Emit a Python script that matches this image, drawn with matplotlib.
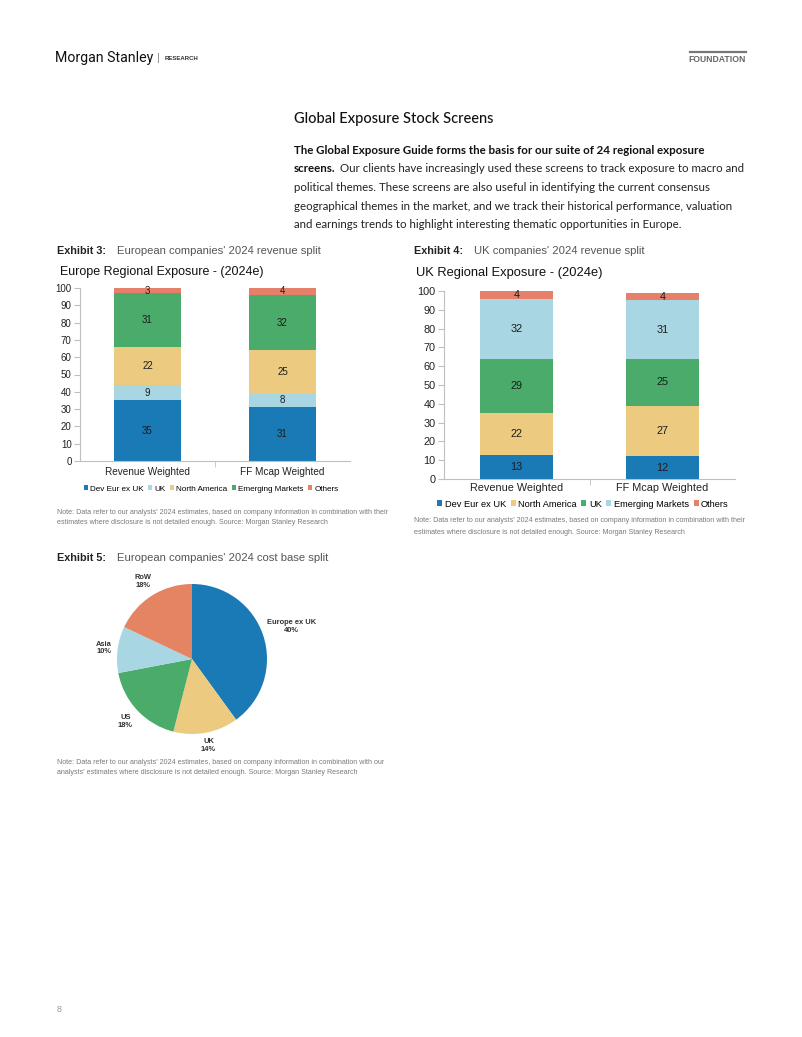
import matplotlib
matplotlib.use("Agg")
import matplotlib.pyplot as plt
import numpy as np

W, H = 802, 1037

# ---------------- data ----------------
eu_categories = ["Revenue Weighted", "FF Mcap Weighted"]
eu_series = ["Dev Eur ex UK", "UK", "North America", "Emerging Markets", "Others"]
eu_dev_eur = [35, 31]
eu_uk = [9, 8]
eu_north_america = [22, 25]
eu_em = [31, 32]
eu_others = [3, 4]

uk_categories = ["Revenue Weighted", "FF Mcap Weighted"]
uk_series = ["Dev Eur ex UK", "North America", "UK", "Emerging Markets", "Others"]
uk_dev_eur = [13, 12]
uk_north_america = [22, 27]
uk_uk = [29, 25]
uk_em = [32, 31]
uk_others = [4, 4]

pie_labels = ["Europe ex UK", "UK", "US", "Asia", "RoW"]
pie_values = [40, 14, 18, 10, 18]

y_ticks = [0, 10, 20, 30, 40, 50, 60, 70, 80, 90, 100]

# ---------------- styles ----------------
C_BLUE = "#1a7ab5"
C_LBLUE = "#a9d6e3"
C_YELLOW = "#eccb80"
C_GREEN = "#4aab6b"
C_ORANGE = "#e6806a"
SANS = ["Liberation Sans", "DejaVu Sans"]
BODY = ["Lato", "DejaVu Sans"]

fig = plt.figure(figsize=(W / 100, H / 100), dpi=100)
fig.patch.set_facecolor("white")


def T(x, y, s, **kw):
    kw.setdefault("va", "center")
    kw.setdefault("ha", "left")
    return fig.text(x / W, 1 - y / H, s, **kw)


def rect(l, t, r, b):
    return [l / W, 1 - b / H, (r - l) / W, (b - t) / H]


# ---------------- header ----------------
T(55, 58, "Morgan Stanley", family=["Roboto", "DejaVu Sans"], fontsize=10.2, color="#111111")
T(157, 58, "|", family=SANS, fontsize=8, color="#888888")
T(165, 58.5, "RESEARCH", family=SANS, fontsize=4.3, fontweight="bold", color="#333333")
fig.add_artist(plt.Line2D([690 / W, 746 / W], [1 - 52 / H, 1 - 52 / H], color="#777777", lw=1.6))
T(746, 59, "FOUNDATION", ha="right", family=SANS, fontsize=6.2, fontweight="bold", color="#666666")

T(294, 119, "Global Exposure Stock Screens", family=BODY, fontsize=10.5, color="#111111",
  fontweight="medium")

PFS = 8.3
para_y = [150, 169, 187.5, 206, 224.5]
T(294, para_y[0], "The Global Exposure Guide forms the basis for our suite of 24 regional exposure",
  family=BODY, fontsize=PFS, fontweight="bold", color="#111111")
t_bold = T(294, para_y[1], "screens.", family=BODY, fontsize=PFS, fontweight="bold", color="#111111")
fig.canvas.draw()
bb = t_bold.get_window_extent(renderer=fig.canvas.get_renderer())
T(bb.x1 + 4, para_y[1], "Our clients have increasingly used these screens to track exposure to macro and",
  family=BODY, fontsize=PFS, color="#222222")
T(294, para_y[2], "political themes. These screens are also useful in identifying the current consensus",
  family=BODY, fontsize=PFS, color="#222222")
T(294, para_y[3], "geographical themes in the market, and we track their historical performance, valuation",
  family=BODY, fontsize=PFS, color="#222222")
T(294, para_y[4], "and earnings trends to highlight interesting thematic opportunities in Europe.",
  family=BODY, fontsize=PFS, color="#222222")

# ---------------- exhibit headers ----------------
T(57, 251, "Exhibit 3:", family=SANS, fontsize=7.8, fontweight="bold", color="#222222")
T(117, 251, "European companies' 2024 revenue split", family=SANS, fontsize=8.1, color="#555555")
T(414, 251, "Exhibit 4:", family=SANS, fontsize=7.8, fontweight="bold", color="#222222")
T(474, 251, "UK companies' 2024 revenue split", family=SANS, fontsize=8.1, color="#555555")
T(57, 558, "Exhibit 5:", family=SANS, fontsize=7.8, fontweight="bold", color="#222222")
T(117, 558, "European companies' 2024 cost base split", family=SANS, fontsize=8.1, color="#555555")


def stacked(ax, cats, series_vals, names, colors, fs_tick, fs_lab, fs_cat):
    x = np.arange(len(cats))
    bottom = np.zeros(len(cats))
    handles = []
    for vals, name, col in zip(series_vals, names, colors):
        bars = ax.bar(x, vals, 0.5, bottom=bottom, color=col, label=name, linewidth=0)
        ax.bar_label(bars, labels=[str(v) for v in vals], label_type="center",
                     fontsize=fs_lab, color="#1c1c1c", family=SANS)
        bottom = bottom + np.array(vals)
        handles.append(bars)
    ax.set_xlim(-0.5, len(cats) - 0.5)
    ax.set_ylim(0, 100)
    ax.set_yticks(y_ticks)
    ax.set_yticklabels([str(v) for v in y_ticks], family=SANS, fontsize=fs_tick, color="#222222")
    ax.set_xticks(x)
    ax.set_xticklabels(cats, family=SANS, fontsize=fs_cat, color="#222222")
    ax.set_xticks([0.5], minor=True)
    ax.tick_params(axis="x", which="major", length=0, pad=5)
    ax.tick_params(axis="x", which="minor", length=4, color="#bfbfbf", direction="out")
    ax.tick_params(axis="y", length=4, color="#bfbfbf", direction="out", pad=2)
    for s in ["top", "right"]:
        ax.spines[s].set_visible(False)
    for s in ["left", "bottom"]:
        ax.spines[s].set_color("#bfbfbf")
        ax.spines[s].set_linewidth(0.8)
    ax.set_facecolor("none")
    return handles


# ---------------- chart 1: Europe ----------------
T(60, 272, "Europe Regional Exposure - (2024e)", family=SANS, fontsize=9, color="#111111")
ax1 = fig.add_axes(rect(80, 288, 350, 461))
h1 = stacked(ax1, eu_categories,
             [eu_dev_eur, eu_uk, eu_north_america, eu_em, eu_others],
             eu_series, [C_BLUE, C_LBLUE, C_YELLOW, C_GREEN, C_ORANGE],
             fs_tick=7, fs_lab=7, fs_cat=7.2)
ax1.tick_params(axis="x", which="major", pad=4)
fig.legend(h1, eu_series, loc="center", bbox_to_anchor=(211 / W, 1 - 489 / H), ncol=5,
           frameon=False, prop={"family": SANS, "size": 5.9}, handlelength=0.55,
           handleheight=0.55, handletextpad=0.25, columnspacing=0.5, borderpad=0)
T(57, 512, "Note: Data refer to our analysts' 2024 estimates, based on company information in combination with their",
  family=SANS, fontsize=5.1, color="#7a7a7a")
T(57, 523, "estimates where disclosure is not detailed enough. Source: Morgan Stanley Research",
  family=SANS, fontsize=5.1, color="#7a7a7a")

# ---------------- chart 2: UK ----------------
T(416, 273, "UK Regional Exposure - (2024e)", family=SANS, fontsize=9.3, color="#111111")
ax2 = fig.add_axes(rect(444, 291, 735, 479))
h2 = stacked(ax2, uk_categories,
             [uk_dev_eur, uk_north_america, uk_uk, uk_em, uk_others],
             uk_series, [C_BLUE, C_YELLOW, C_GREEN, C_LBLUE, C_ORANGE],
             fs_tick=7.8, fs_lab=7.8, fs_cat=7.8)
ax2.tick_params(axis="x", which="major", pad=3)
fig.legend(h2, uk_series, loc="center", bbox_to_anchor=(583 / W, 1 - 504 / H), ncol=5,
           frameon=False, prop={"family": SANS, "size": 6.7}, handlelength=0.55,
           handleheight=0.55, handletextpad=0.25, columnspacing=0.5, borderpad=0)
T(414, 521, "Note: Data refer to our analysts' 2024 estimates, based on company information in combination with their",
  family=SANS, fontsize=5.1, color="#7a7a7a")
T(414, 532, "estimates where disclosure is not detailed enough. Source: Morgan Stanley Research",
  family=SANS, fontsize=5.1, color="#7a7a7a")

# ---------------- chart 3: pie ----------------
ax3 = fig.add_axes(rect(117, 584, 267, 734))
pie_colors = [C_BLUE, C_YELLOW, C_GREEN, C_LBLUE, "#e48463"]
wedges, _ = ax3.pie(pie_values, colors=pie_colors, startangle=90, counterclock=False,
                    radius=1, wedgeprops={"linewidth": 0})
ax3.set_xlim(-1, 1)
ax3.set_ylim(-1, 1)
ax3.set_aspect("equal")
label_dist = [1.40, 1.17, 1.22, 1.18, 1.22]
for w, lab, v, d in zip(wedges, pie_labels, pie_values, label_dist):
    ang = np.deg2rad((w.theta1 + w.theta2) / 2)
    ax3.text(d * np.cos(ang), d * np.sin(ang), f"{lab}\n{v}%", ha="center", va="center",
             family=SANS, fontsize=5.4, fontweight="bold", color="#333333",
             linespacing=1.15, clip_on=False)
T(57, 762, "Note: Data refer to our analysts' 2024 estimates, based on company information in combination with our",
  family=SANS, fontsize=5.1, color="#7a7a7a")
T(57, 773, "analysts' estimates where disclosure is not detailed enough. Source: Morgan Stanley Research",
  family=SANS, fontsize=5.1, color="#7a7a7a")

# page number
T(57, 1009, "8", family=SANS, fontsize=6.5, color="#999999")

fig.savefig("out.png", dpi=100, facecolor="white")
